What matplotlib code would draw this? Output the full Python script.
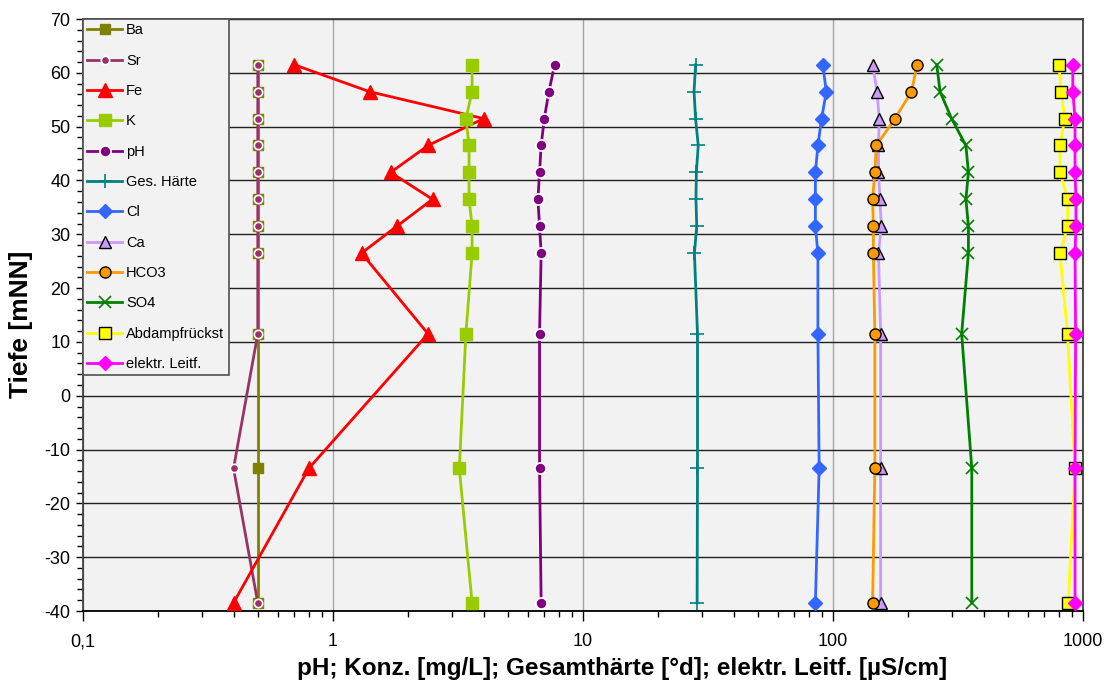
import matplotlib
matplotlib.use("Agg")
import matplotlib.pyplot as plt
from matplotlib.ticker import FixedLocator, FixedFormatter, LogLocator, MultipleLocator, NullFormatter

plt.rcParams['font.family'] = ['Liberation Sans', 'DejaVu Sans']
plt.rcParams['axes.unicode_minus'] = False

# Sampling depths [mNN]
depth = [61.5, 56.5, 51.5, 46.5, 41.5, 36.5, 31.5, 26.5, 11.5, -13.5, -38.5]

ba = [0.5, 0.5, 0.5, 0.5, 0.5, 0.5, 0.5, 0.5, 0.5, 0.5, 0.5]
sr = [0.5, 0.5, 0.5, 0.5, 0.5, 0.5, 0.5, 0.5, 0.5, 0.4, 0.5]
fe = [0.7, 1.4, 4.0, 2.4, 1.7, 2.5, 1.8, 1.3, 2.4, 0.8, 0.4]
k = [3.6, 3.6, 3.4, 3.5, 3.5, 3.5, 3.6, 3.6, 3.4, 3.2, 3.6]
ph = [7.7, 7.3, 7.0, 6.8, 6.7, 6.6, 6.7, 6.8, 6.7, 6.7, 6.8]
haerte = [28.2, 27.8, 28.2, 28.9, 28.4, 28.3, 28.5, 27.9, 28.7, 28.7, 28.6]
cl = [91, 94, 90, 87, 85, 85, 85, 87, 87, 88, 85]
ca = [144, 150, 153, 152, 152, 154, 156, 152, 155, 155, 155]
hco3 = [217, 206, 177, 149, 147, 144, 145, 145, 147, 147, 144]
so4 = [260, 268, 298, 340, 348, 340, 348, 348, 327, 359, 359]
abdampf = [802, 817, 845, 809, 809, 868, 868, 809, 867, 929, 873]
leitf = [910, 910, 929, 929, 929, 937, 937, 929, 934, 929, 929]

x_ticks = [0.1, 1, 10, 100, 1000]
x_ticklabels = ["0,1", "1", "10", "100", "1000"]
y_ticks = [70, 60, 50, 40, 30, 20, 10, 0, -10, -20, -30, -40]

fig = plt.figure(figsize=(11.04, 6.84), dpi=100)
ax = fig.add_axes([0.0752, 0.1067, 0.9058, 0.8655])
ax.set_facecolor('#F2F2F2')

lw = 2.0
series = [
    ("Ba", ba, dict(color='#808000', marker='s', ms=7, mfc='#808000', mec='#808000')),
    ("Sr", sr, dict(color='#993366', marker='o', ms=6, mfc='#993366', mec='white', mew=1.2)),
    ("Fe", fe, dict(color='#FF0000', marker='^', ms=10.5, mfc='#FF0000', mec='#FF0000')),
    ("K", k, dict(color='#99CC00', marker='s', ms=8, mfc='#99CC00', mec='#99CC00')),
    ("pH", ph, dict(color='#800080', marker='o', ms=8, mfc='#800080', mec='white', mew=1.2)),
    ("Ges. Härte", haerte, dict(color='#008080', marker='+', ms=10, mew=1.2)),
    ("Cl", cl, dict(color='#3366FF', marker='D', ms=7, mfc='#3366FF', mec='#3366FF')),
    ("Ca", ca, dict(color='#CC99FF', marker='^', ms=8, mfc='#CC99FF', mec='black', mew=1.0)),
    ("HCO3", hco3, dict(color='#FF9900', marker='o', ms=8, mfc='#FF9900', mec='black', mew=1.0)),
    ("SO4", so4, dict(color='#008000', marker='x', ms=9, mew=1.2)),
    ("Abdampfrückst", abdampf, dict(color='#FFFF00', marker='s', ms=8, mfc='#FFFF00', mec='black', mew=1.0)),
    ("elektr. Leitf.", leitf, dict(color='#FF00FF', marker='D', ms=7, mfc='#FF00FF', mec='#FF00FF')),
]

for i, (name, vals, style) in enumerate(series):
    ax.plot(vals, depth, lw=lw, label=name, zorder=3 + i, **style)

ax.set_xscale('log')
ax.set_xlim(0.1, 1000)
ax.set_ylim(-40, 70)

ax.xaxis.set_major_locator(FixedLocator(x_ticks))
ax.xaxis.set_major_formatter(FixedFormatter(x_ticklabels))
ax.xaxis.set_minor_locator(LogLocator(base=10, subs=range(2, 10)))
ax.xaxis.set_minor_formatter(NullFormatter())
ax.yaxis.set_major_locator(FixedLocator(y_ticks))
ax.yaxis.set_minor_locator(MultipleLocator(2))

ax.tick_params(axis='both', which='major', direction='out', length=5, width=1,
               labelsize=13, colors='black', pad=4)
ax.tick_params(axis='both', which='minor', direction='out', length=4, width=1)
ax.tick_params(axis='x', which='major', length=7, pad=9)

ax.grid(True, axis='y', which='major', color='#202020', lw=1.0, zorder=1)
ax.grid(True, axis='x', which='major', color='#A6A6A6', lw=1.0, zorder=1)
ax.set_axisbelow(True)

for side in ['top', 'right', 'bottom', 'left']:
    ax.spines[side].set_color('#404040')
    ax.spines[side].set_linewidth(1.3)
ax.spines['bottom'].set_color('black')

ax.set_xlabel("pH; Konz. [mg/L]; Gesamthärte [°d]; elektr. Leitf. [µS/cm]",
              fontsize=17.5, fontweight='bold', labelpad=5)
ax.set_ylabel("Tiefe [mNN]", fontsize=19, fontweight='bold', labelpad=8)
ax.xaxis.label.set_x(0.539)
ax.yaxis.label.set_y(0.485)

leg = ax.legend(loc='upper left', bbox_to_anchor=(0, 1), borderaxespad=0,
                fontsize=10.5, labelspacing=1.12, handlelength=2.4, handletextpad=0.25,
                borderpad=0.3, fancybox=False, framealpha=1.0,
                facecolor='#F2F2F2', edgecolor='#505050')
leg.get_frame().set_linewidth(1.2)
leg.set_zorder(20)

fig.savefig("out.png", dpi=100, facecolor='white')
